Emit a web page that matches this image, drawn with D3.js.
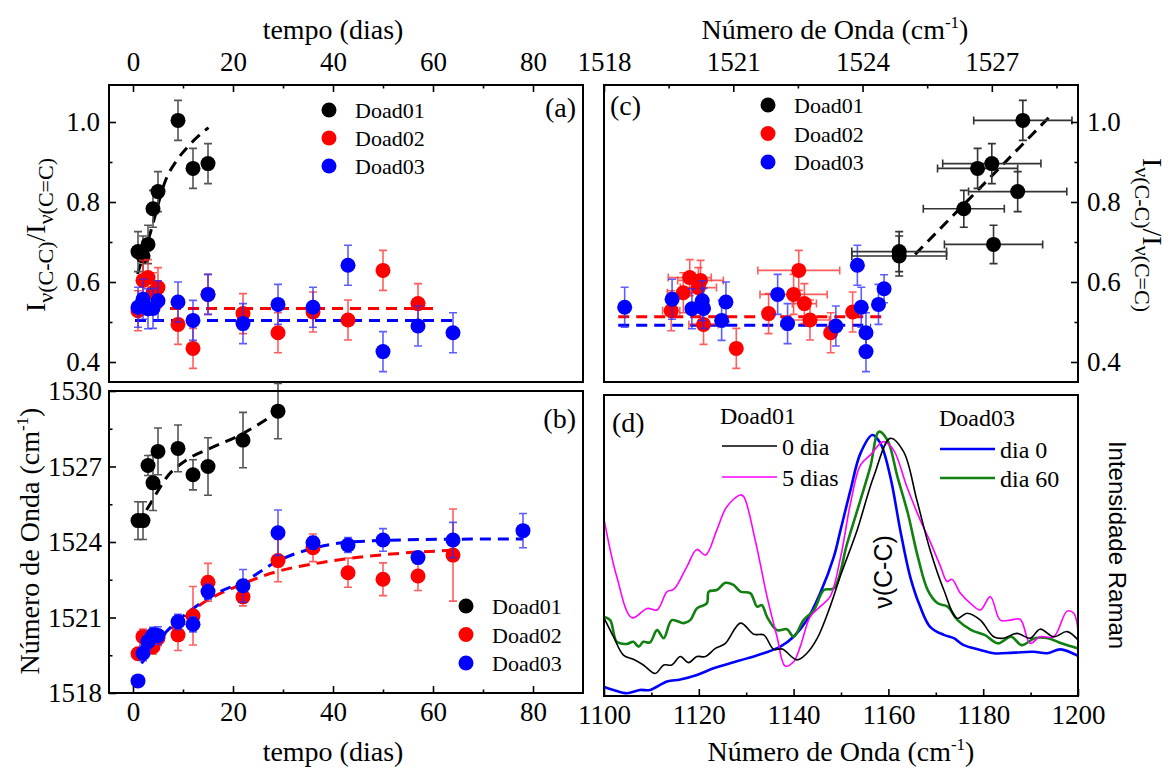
<!DOCTYPE html>
<html>
<head>
<meta charset="utf-8">
<script src="https://cdn.jsdelivr.net/npm/d3@7"></script>
<style>
body { margin: 0; background: #fff; }
text { font-family: "Liberation Serif", "Times New Roman", serif; fill: #000; }
.sans { font-family: "Liberation Sans", Arial, sans-serif; }
</style>
</head>
<body>
<svg id="chart" width="1171" height="772"></svg>
<script>
// ---- data ----
// Doad01 (black)
var days01 = [1, 2, 3, 4, 5, 9, 12, 15, 22, 29];
var ratio01 = [0.676, 0.665, 0.694, 0.783, 0.826, 1.004, 0.884, 0.896, null, null];
var ratioErr01 = [0.05, 0.05, 0.048, 0.046, 0.05, 0.05, 0.05, 0.05, null, null];
var wave01 = [1524.85, 1524.85, 1527.04, 1526.35, 1527.6, 1527.72, 1526.67, 1527.0, 1528.05, 1529.2];
var waveErr01 = [0.75, 0.75, 0.4, 1.1, 0.93, 0.93, 0.6, 1.14, 1.1, 1.1];
var hErrC01 = [1.1, 1.1, 1.14, 0.94, 1.14, 1.14, 0.93, 1.14, null, null];

// Doad02 (red)
var days02 = [1, 2, 3, 4, 5, 9, 12, 15, 22, 29, 36, 43, 50, 57, 64];
var ratio02 = [0.528, 0.604, 0.611, 0.573, 0.586, 0.494, 0.434, 0.569, 0.521, 0.473, 0.525, 0.505, 0.629, 0.546, null];
var ratioErr02 = [0.05, 0.05, 0.045, 0.05, 0.05, 0.05, 0.05, 0.05, 0.05, 0.05, 0.05, 0.05, 0.05, 0.05, null];
var wave02 = [1519.56, 1520.24, 1519.99, 1519.84, 1520.19, 1520.31, 1521.07, 1522.4, 1521.82, 1523.26, 1523.77, 1522.78, 1522.52, 1522.65, 1523.48];
var waveErr02 = [0.15, 0.3, 0.3, 0.3, 0.3, 0.62, 1.16, 0.75, 0.36, 0.84, 0.55, 0.58, 0.65, 0.58, 1.83];
var hErrC02 = [0.2, 0.53, 0.5, 0.37, 0.42, 0.34, null, 0.78, null, null, null, 0.45, 0.95, 0.28, null];

// Doad03 (blue)
var days03 = [1, 2, 3, 4, 5, 9, 12, 15, 22, 29, 36, 43, 50, 57, 64, 78];
var ratio03 = [0.537, 0.557, 0.533, 0.534, 0.553, 0.55, 0.504, 0.569, 0.496, 0.544, 0.537, 0.642, 0.426, 0.49, 0.473, null];
var ratioErr03 = [0.05, 0.05, 0.05, 0.05, 0.05, 0.05, 0.05, 0.05, 0.05, 0.05, 0.05, 0.05, 0.05, 0.05, 0.05, null];
var wave03 = [1518.48, 1519.58, 1520.04, 1520.31, 1520.28, 1520.83, 1520.73, 1522.03, 1522.26, 1524.37, 1523.97, 1523.88, 1524.08, 1523.38, 1524.08, 1524.45];
var waveErr03 = [0, 0.3, 0.3, 0.3, 0.35, 0.3, 0.3, 0.3, 0.65, 0.9, 0.25, 0.3, 0.45, 0.2, 0.7, 0.68];
var extraWaveC03 = [1524.5];
var extraRatioC03 = [0.583];

// dashed fits
var fitA01Days = [0.9, 3.4, 6.6, 8.7, 11.4, 15.1];
var fitA01Ratio = [0.62, 0.72, 0.857, 0.903, 0.944, 0.986];
var fitA02Days = [7.4, 61.4], fitA02Ratio = [0.534, 0.534];
var fitA03Days = [0.4, 64.7], fitA03Ratio = [0.504, 0.504];
var fitB01Days = [2.7, 3.4, 7.1, 10.7, 15.4, 21.4, 29.2];
var fitB01Wave = [1525.27, 1525.5, 1526.66, 1527.26, 1527.72, 1528.25, 1529.2];
var fitB02Days = [2.1, 8.7, 13.4, 21.4, 28.7, 36.7, 53.4, 64];
var fitB02Wave = [1519.64, 1520.73, 1521.5, 1522.29, 1522.82, 1523.15, 1523.55, 1523.67];
var fitB03Days = [1.7, 6.7, 12.1, 16.7, 22.1, 29.4, 36.1, 44.1, 62.7, 78];
var fitB03Wave = [1519.18, 1520.44, 1521.37, 1521.96, 1522.42, 1523.29, 1523.75, 1524.01, 1524.11, 1524.12];
var fitC01Wave = [1525.22, 1528.41], fitC01Ratio = [0.669, 1.021];
var fitC02Wave = [1518.33, 1524.57], fitC02Ratio = [0.513, 0.513];
var fitC03Wave = [1518.33, 1524.2], fitC03Ratio = [0.492, 0.492];

// Raman spectra (panel d), intensity in arbitrary units
var wn0dia = [1099.9,1102.0,1104.1,1106.2,1108.3,1110.8,1112.6,1114.3,1116.1,1117.8,1119.6,1121.4,1123.5,1125.6,1128.8,1131.6,1133.7,1135.8,1137.6,1140.7,1142.8,1145.0,1147.7,1149.9,1153.4,1156.9,1160.4,1163.2,1166.0,1168.8,1171.7,1174.5,1176.6,1179.4,1182.2,1184.3,1187.1,1189.9,1192.0,1194.9,1197.7,1200];
var int0dia = [26.3,19.7,13.6,12.2,10.3,7.5,10.3,10.3,13.1,11.1,13.1,13.1,15.8,17.5,24.2,20.5,20.3,15.5,15.6,12.0,14.2,19.2,29.7,40,55.1,72.9,85.6,81.2,65.1,48.5,35.2,25.8,27.5,25.2,19.7,19.2,20.8,19.2,22.2,19.7,21.4,18.6];
var wn5dias = [1099.9,1102.7,1105.9,1109.1,1111.2,1113.3,1114.7,1117.5,1119.6,1121.4,1123.8,1125.9,1128.8,1129.5,1131.9,1134.4,1136.5,1138.2,1140.0,1141.4,1143.5,1145.6,1147.7,1149.9,1152.0,1154.1,1156.2,1159.0,1161.1,1163.9,1166.7,1168.8,1171.0,1172.4,1173.4,1175.2,1177.3,1179.4,1181.5,1183.6,1185.7,1187.8,1189.9,1192.0,1194.9,1197.7,1199.1,1200];
var int5dias = [59.6,39.6,26.0,29.1,28.6,34.7,35.4,43.0,48.7,46.8,55.1,62.9,66.8,66.2,51.8,33.0,19.7,10.0,11.4,16.4,26.3,29.7,33.0,46,64.0,76.7,80.1,84.5,81.7,69.5,58.5,51.3,43.0,38.0,38.8,34.1,30.8,28.6,33.0,25.2,25.2,25.5,17.5,19.7,19.7,28.2,27.5,21.9];
var wnDia0 = [1099.9,1102.0,1104.8,1107.6,1109.7,1113.3,1116.1,1119.6,1123.1,1126.6,1130.2,1133.7,1137.2,1140,1142.8,1145.6,1148.5,1149.9,1152.0,1154.1,1156.6,1158.3,1160.4,1162.5,1164.6,1166.7,1168.8,1171.7,1173.8,1175.9,1179.4,1182.2,1186.4,1190.6,1193.5,1196.3,1200];
var intDia0 = [3.1,2.0,0.9,2.0,2.0,4.8,5.5,7.0,9.2,10.9,12.5,14.2,16.4,19.7,25.2,34.1,46.3,55.1,68.4,80.6,86.7,84.0,72.9,55.1,39.6,29.7,23.0,20.3,19.2,16.9,15.3,14.2,14.4,14.7,14.2,15.5,13.3];
var wnDia60 = [1099.9,1101.3,1102.7,1104.8,1106.2,1107.3,1108.3,1109.7,1111.2,1112.6,1114.3,1116.8,1118.2,1119.6,1121.7,1122.1,1123.8,1125.6,1127.3,1128.8,1130.9,1132.3,1133.3,1134.4,1136.5,1138.6,1140,1142.1,1144.3,1146.4,1148.5,1151.3,1154.1,1156.2,1158.0,1159.8,1161.9,1164.1,1166.2,1168.3,1170.4,1172.5,1174.6,1177.5,1180.3,1183.1,1185.9,1188.1,1190.9,1193.7,1196.5,1200];
var intDia60 = [26.3,25.2,18.0,17.3,18.0,16.4,18.0,17.8,21.9,19.2,25.2,24.2,25.2,29.1,30.8,34.7,35.2,37.6,36.9,34.7,34.1,29.7,30.2,26.3,21.9,22.2,19.7,25.2,28.6,35.2,35.8,50.7,65.1,76.2,87.8,85.0,72.9,60.7,46.3,35.2,30.8,29.7,25.2,21.9,20.3,17.5,19.7,16.9,19.2,19.2,17.5,15.8];

var svg = d3.select("#chart");

// ---- scales ----
var xT = d3.scaleLinear().domain([-4.8, 90]).range([109, 583]);
var yR = d3.scaleLinear().domain([0.35, 1.0925]).range([382, 85]);
var yW = d3.scaleLinear().domain([1518, 1530]).range([693, 391]);
var xW = d3.scaleLinear().domain([1518, 1529]).range([604, 1078]);
var xD = d3.scaleLinear().domain([1100, 1200]).range([604, 1078]);
var yD = d3.scaleLinear().domain([0, 100]).range([696, 395]);

function rows(xs, ys, exs, eys) {
  return xs.map(function(x, i) {
    return {x: x, y: ys[i], ex: exs ? exs[i] : null, ey: eys ? eys[i] : null};
  }).filter(function(d) { return d.y != null; });
}

function points(data, sx, sy, color, barColor) {
  var g = svg.append("g");
  var cap = 4;
  data.forEach(function(d) {
    if (d.ey) {
      var y1 = sy(d.y - d.ey), y2 = sy(d.y + d.ey), x = sx(d.x);
      g.append("path").attr("d", "M" + x + "," + y1 + "V" + y2 + "M" + (x - cap) + "," + y1 + "H" + (x + cap) + "M" + (x - cap) + "," + y2 + "H" + (x + cap))
        .attr("stroke", barColor).attr("stroke-width", 1.6).attr("fill", "none");
    }
    if (d.ex) {
      var x1 = sx(d.x - d.ex), x2 = sx(d.x + d.ex), y = sy(d.y);
      g.append("path").attr("d", "M" + x1 + "," + y + "H" + x2 + "M" + x1 + "," + (y - cap) + "V" + (y + cap) + "M" + x2 + "," + (y - cap) + "V" + (y + cap))
        .attr("stroke", barColor).attr("stroke-width", 1.6).attr("fill", "none");
    }
  });
  g.selectAll("circle").data(data).enter().append("circle")
    .attr("cx", function(d) { return sx(d.x); })
    .attr("cy", function(d) { return sy(d.y); })
    .attr("r", 7.5).attr("fill", color);
}

function dashed(xs, ys, sx, sy, color, curve) {
  var data = xs.map(function(x, i) { return [x, ys[i]]; });
  svg.append("path").datum(data)
    .attr("fill", "none").attr("stroke", color).attr("stroke-width", 3)
    .attr("stroke-dasharray", "11,7")
    .attr("d", d3.line().curve(curve || d3.curveLinear)
      .x(function(d) { return sx(d[0]); }).y(function(d) { return sy(d[1]); }));
}

function drawAxis(make, scale, pos, major, minor, fmt, pad) {
  var gMinor = svg.append("g").attr("transform", pos)
    .call(make(scale).tickValues(minor).tickSize(-3.5).tickFormat(""));
  var gMajor = svg.append("g").attr("transform", pos)
    .call(make(scale).tickValues(major).tickSize(-7).tickPadding(pad || 9).tickFormat(fmt));
  [gMinor, gMajor].forEach(function(g) {
    g.select(".domain").remove();
    g.selectAll("line").attr("stroke", "#000").attr("stroke-width", 1.6);
    g.selectAll("text").attr("font-size", 27).attr("font-family", "Liberation Serif");
  });
  return gMajor;
}

function frame(x0, y0, x1, y1) {
  svg.append("rect").attr("x", x0).attr("y", y0).attr("width", x1 - x0).attr("height", y1 - y0)
    .attr("fill", "none").attr("stroke", "#000").attr("stroke-width", 2);
}

var f1 = d3.format(".1f"), f0 = d3.format("d");
var dayMajor = [0, 20, 40, 60, 80], dayMinor = [10, 30, 50, 70];
var ratioMajor = [0.4, 0.6, 0.8, 1.0], ratioMinor = [0.5, 0.7, 0.9];
var waveMajor = [1518, 1521, 1524, 1527], waveMinor = [1519.5, 1522.5, 1525.5, 1528.5];

// ---- panel (a) ----
dashed(fitA02Days, fitA02Ratio, xT, yR, "#ff0000");
dashed(fitA03Days, fitA03Ratio, xT, yR, "#0000ff");
dashed(fitA01Days, fitA01Ratio, xT, yR, "#000", d3.curveMonotoneX);
points(rows(days01, ratio01, null, ratioErr01), xT, yR, "#000", "#555");
points(rows(days02, ratio02, null, ratioErr02), xT, yR, "#ff0000", "rgba(255,40,40,0.75)");
points(rows(days03, ratio03, null, ratioErr03), xT, yR, "#0000ff", "rgba(40,40,255,0.75)");
drawAxis(d3.axisTop, xT, "translate(0,85)", dayMajor, dayMinor, f0, 14);
drawAxis(d3.axisLeft, yR, "translate(109,0)", ratioMajor, ratioMinor, f1);
frame(109, 85, 583, 382);

// ---- panel (b) ----
dashed(fitB01Days, fitB01Wave, xT, yW, "#000", d3.curveMonotoneX);
dashed(fitB02Days, fitB02Wave, xT, yW, "#ff0000", d3.curveMonotoneX);
dashed(fitB03Days, fitB03Wave, xT, yW, "#0000ff", d3.curveMonotoneX);
points(rows(days01, wave01, null, waveErr01), xT, yW, "#000", "#555");
points(rows(days02, wave02, null, waveErr02), xT, yW, "#ff0000", "rgba(255,40,40,0.75)");
points(rows(days03, wave03, null, waveErr03), xT, yW, "#0000ff", "rgba(40,40,255,0.75)");
drawAxis(d3.axisBottom, xT, "translate(0,693)", dayMajor, dayMinor, f0);
drawAxis(d3.axisLeft, yW, "translate(109,0)", [1518, 1521, 1524, 1527, 1530], waveMinor, f0, 7);
frame(109, 391, 583, 693);

// ---- panel (c) ----
dashed(fitC02Wave, fitC02Ratio, xW, yR, "#ff0000");
dashed(fitC03Wave, fitC03Ratio, xW, yR, "#0000ff");
dashed(fitC01Wave, fitC01Ratio, xW, yR, "#000");
points(rows(wave02, ratio02, hErrC02, ratioErr02), xW, yR, "#ff0000", "rgba(255,40,40,0.75)");
points(rows(wave03, ratio03, null, ratioErr03).concat(rows(extraWaveC03, extraRatioC03, null, [0.035])), xW, yR, "#0000ff", "rgba(40,40,255,0.75)");
points(rows(wave01, ratio01, hErrC01, ratioErr01), xW, yR, "#000", "#333");
drawAxis(d3.axisTop, xW, "translate(0,85)", waveMajor, waveMinor, f0, 14);
drawAxis(d3.axisRight, yR, "translate(1078,0)", ratioMajor, ratioMinor, f1);
frame(604, 85, 1078, 382);

// ---- panel (d) ----
var lineD = d3.line().curve(d3.curveCatmullRom)
  .x(function(d) { return xD(d[0]); }).y(function(d) { return yD(d[1]); });
var spectra = [
  {x: wnDia0, y: intDia0, color: "#0000ff", w: 2.6},
  {x: wnDia60, y: intDia60, color: "#118011", w: 2.6},
  {x: wn5dias, y: int5dias, color: "#ff00ff", w: 1.6},
  {x: wn0dia, y: int0dia, color: "#000", w: 1.6}
];
spectra.forEach(function(s) {
  svg.append("path").datum(s.x.map(function(x, i) { return [x, s.y[i]]; }))
    .attr("fill", "none").attr("stroke", s.color).attr("stroke-width", s.w)
    .attr("d", lineD);
});
drawAxis(d3.axisBottom, xD, "translate(0,696)", [1100, 1120, 1140, 1160, 1180, 1200], [1110, 1130, 1150, 1170, 1190], f0);
frame(604, 395, 1078, 696);

// ---- legends ----
function legend(x, y0, step, names, colors) {
  names.forEach(function(n, i) {
    svg.append("circle").attr("cx", x).attr("cy", y0 + i * step).attr("r", 7.5).attr("fill", colors[i]);
    svg.append("text").attr("x", x + 26).attr("y", y0 + i * step + 8).attr("font-size", 22).text(n);
  });
}
var names = ["Doad01", "Doad02", "Doad03"], cols = ["#000", "#ff0000", "#0000ff"];
legend(329, 110, 28, names, cols);
legend(466, 606, 28.5, names, cols);
legend(768, 105, 28.5, names, cols);

function lineLegend(x, y, label, color, w) {
  svg.append("line").attr("x1", x).attr("x2", x + 55).attr("y1", y).attr("y2", y)
    .attr("stroke", color).attr("stroke-width", w);
  svg.append("text").attr("x", x + 60).attr("y", y + 9).attr("font-size", 24).text(label);
}
svg.append("text").attr("x", 720).attr("y", 424).attr("font-size", 24).text("Doad01");
lineLegend(722, 446, "0 dia", "#000", 1.6);
lineLegend(722, 477, "5 dias", "#ff00ff", 1.6);
svg.append("text").attr("x", 939).attr("y", 426).attr("font-size", 24).text("Doad03");
lineLegend(940, 449, "dia 0", "#0000ff", 2.6);
lineLegend(940, 478, "dia 60", "#118011", 2.6);

// ---- panel labels ----
svg.append("text").attr("x", 576).attr("y", 117).attr("text-anchor", "end").attr("font-size", 28).text("(a)");
svg.append("text").attr("x", 576).attr("y", 428).attr("text-anchor", "end").attr("font-size", 28).text("(b)");
svg.append("text").attr("x", 610).attr("y", 115).attr("font-size", 28).text("(c)");
svg.append("text").attr("x", 612).attr("y", 432).attr("font-size", 28).text("(d)");
svg.append("text").attr("class", "sans").attr("transform", "translate(892,572) rotate(-90)")
  .attr("text-anchor", "middle").attr("font-size", 25).text("\u03bd(C-C)");

// ---- axis titles ----
function waveTitle(sel) {
  sel.append("tspan").text("N\u00famero de Onda (cm");
  sel.append("tspan").attr("font-size", 17).attr("dy", -11).text("-1");
  sel.append("tspan").attr("dy", 11).text(")");
}
svg.append("text").attr("x", 333).attr("y", 39).attr("text-anchor", "middle").attr("font-size", 28).text("tempo (dias)");
svg.append("text").attr("x", 333).attr("y", 761).attr("text-anchor", "middle").attr("font-size", 28).text("tempo (dias)");
waveTitle(svg.append("text").attr("x", 835).attr("y", 39).attr("text-anchor", "middle").attr("font-size", 28));
waveTitle(svg.append("text").attr("x", 841).attr("y", 761).attr("text-anchor", "middle").attr("font-size", 28));
waveTitle(svg.append("text").attr("transform", "translate(39,541) rotate(-90)").attr("text-anchor", "middle").attr("font-size", 28));

function ratioTitle(sel) {
  sel.append("tspan").text("I");
  sel.append("tspan").attr("font-size", 22).attr("dy", 8).text("\u03bd(C-C)");
  sel.append("tspan").attr("dy", -8).text("/I");
  sel.append("tspan").attr("font-size", 22).attr("dy", 8).text("\u03bd(C=C)");
}
ratioTitle(svg.append("text").attr("transform", "translate(45,235) rotate(-90)").attr("text-anchor", "middle").attr("font-size", 28));
ratioTitle(svg.append("text").attr("transform", "translate(1143,235) rotate(90)").attr("text-anchor", "middle").attr("font-size", 28));
svg.append("text").attr("class", "sans").attr("transform", "translate(1109,545) rotate(90)")
  .attr("text-anchor", "middle").attr("font-size", 24).text("Intensidade Raman");
</script>
</body>
</html>
